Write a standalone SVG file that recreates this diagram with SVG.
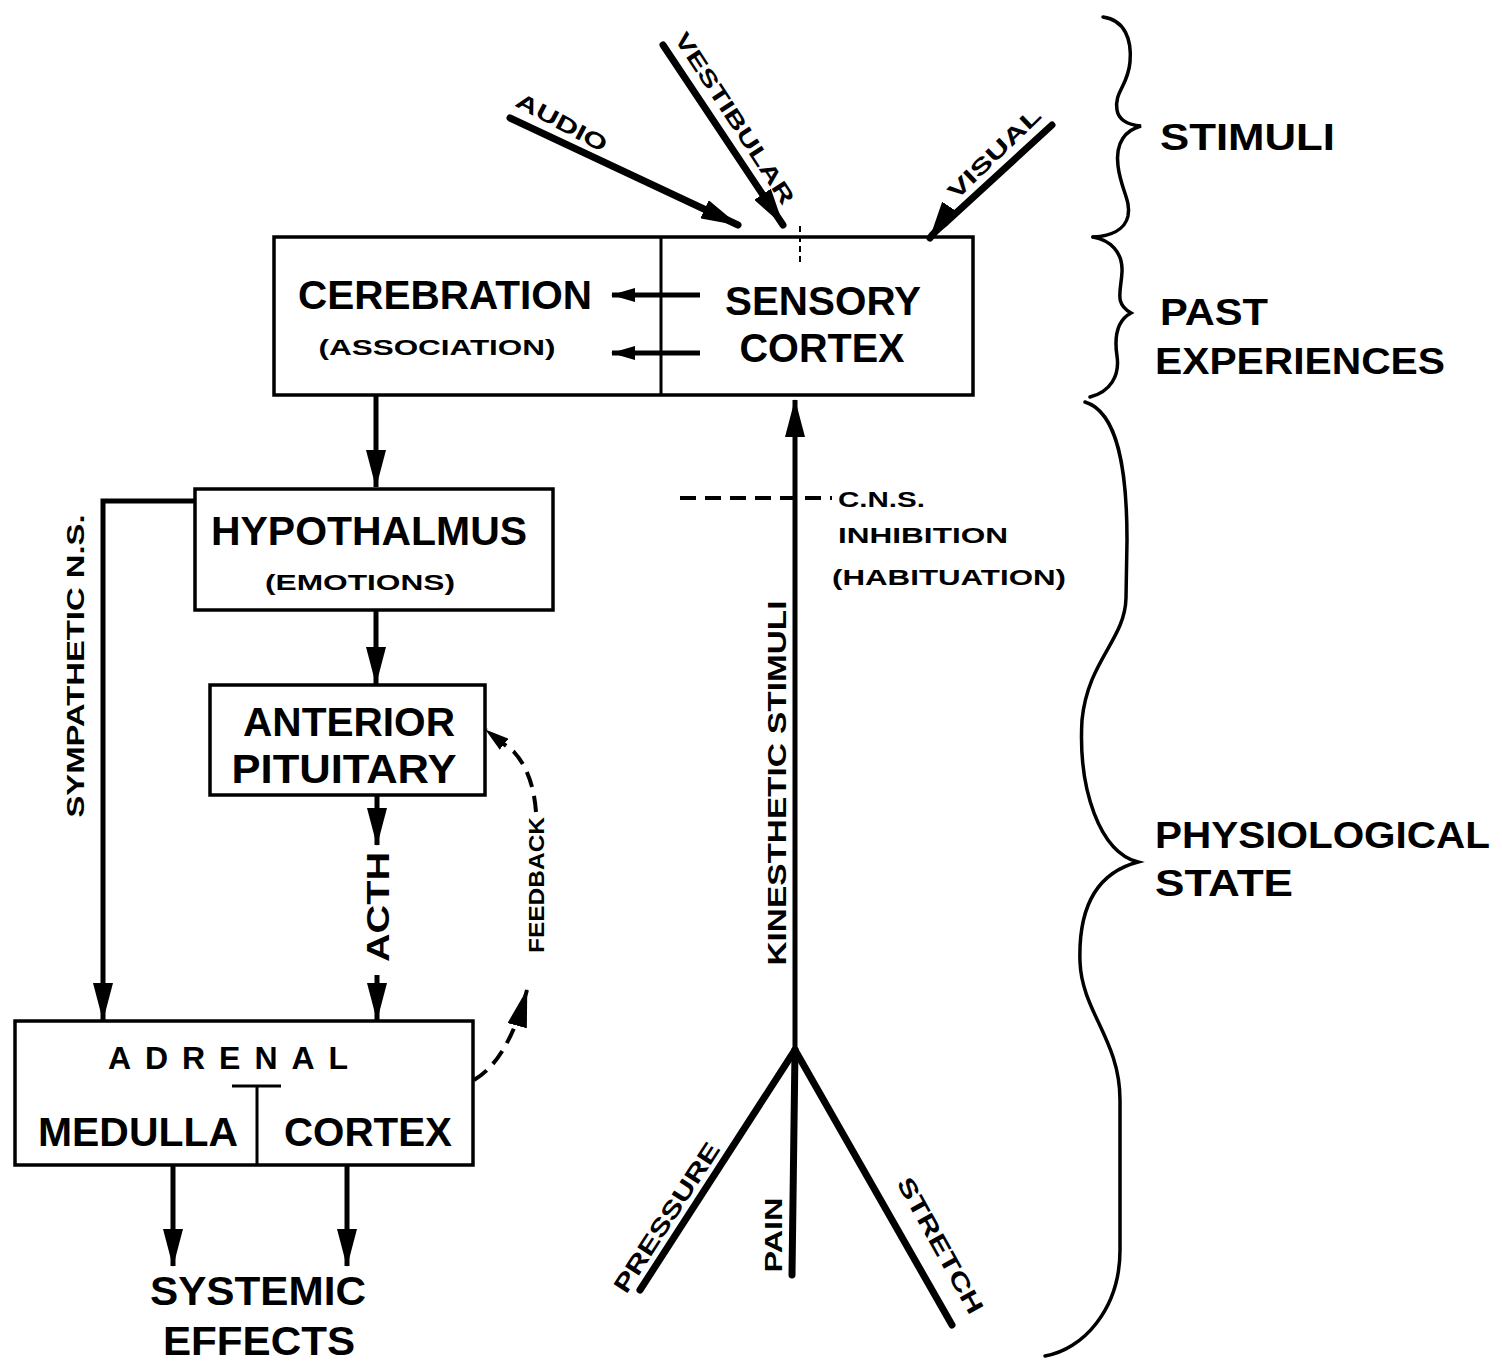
<svg xmlns="http://www.w3.org/2000/svg" width="1502" height="1362" viewBox="0 0 1502 1362">
<style>
text{font-family:"Liberation Sans","DejaVu Sans",sans-serif;font-weight:bold;fill:#000}
.b{font-size:40px}
.m{font-size:36px}
.s{font-size:22px}
.box{fill:#fff;stroke:#000;stroke-width:3.5}
.ln{fill:none;stroke:#000;stroke-width:5}
.thick{fill:none;stroke:#000;stroke-width:7;stroke-linecap:round}
.br{fill:none;stroke:#000;stroke-width:3.5;stroke-linecap:round}
.dash{fill:none;stroke:#000;stroke-width:4;stroke-dasharray:16 9}
</style>
<defs>
<marker id="ah" markerUnits="userSpaceOnUse" viewBox="0 0 38 20" refX="37" refY="10" markerWidth="38" markerHeight="20" orient="auto"><path d="M0,0 L38,10 L0,20 Z" fill="#000"/></marker>
<marker id="ahs" markerUnits="userSpaceOnUse" viewBox="0 0 24 14" refX="23" refY="7" markerWidth="24" markerHeight="14" orient="auto"><path d="M0,0 L24,7 L0,14 Z" fill="#000"/></marker>
</defs>
<rect width="1502" height="1362" fill="#fff"/>

<g id="node-cerebration">
<rect class="box" x="274" y="237" width="699" height="158"/>
<line x1="661" y1="237" x2="661" y2="395" stroke="#000" stroke-width="3"/>
<text class="b" x="445" y="309" text-anchor="middle" textLength="294" lengthAdjust="spacingAndGlyphs">CEREBRATION</text>
<text class="s" x="437" y="355" text-anchor="middle" textLength="237" lengthAdjust="spacingAndGlyphs">(ASSOCIATION)</text>
</g>
<g id="node-sensory-cortex">
<text class="b" x="823" y="315" text-anchor="middle" textLength="196" lengthAdjust="spacingAndGlyphs">SENSORY</text>
<text class="b" x="822" y="362" text-anchor="middle" textLength="165" lengthAdjust="spacingAndGlyphs">CORTEX</text>
</g>

<g id="node-hypothalmus">
<rect class="box" x="195" y="489" width="358" height="121"/>
<text class="b" x="369" y="545" text-anchor="middle" textLength="316" lengthAdjust="spacingAndGlyphs">HYPOTHALMUS</text>
<text class="s" x="360" y="590" text-anchor="middle" textLength="190" lengthAdjust="spacingAndGlyphs">(EMOTIONS)</text>
</g>

<g id="node-anterior-pituitary">
<rect class="box" x="210" y="685" width="275" height="110"/>
<text class="b" x="349" y="736" text-anchor="middle" textLength="212" lengthAdjust="spacingAndGlyphs">ANTERIOR</text>
<text class="b" x="344" y="783" text-anchor="middle" textLength="225" lengthAdjust="spacingAndGlyphs">PITUITARY</text>
</g>

<g id="node-adrenal">
<rect class="box" x="15" y="1021" width="458" height="144"/>
<text x="228" y="1069" text-anchor="middle" font-size="32" textLength="240" lengthAdjust="spacing">ADRENAL</text>
<path d="M232,1086 L281,1086 M257,1086 L257,1165" stroke="#000" stroke-width="3" fill="none"/>
<text class="b" x="138" y="1146" text-anchor="middle" textLength="200" lengthAdjust="spacingAndGlyphs">MEDULLA</text>
<text class="b" x="368" y="1146" text-anchor="middle" textLength="168" lengthAdjust="spacingAndGlyphs">CORTEX</text>
</g>

<g id="node-systemic-effects">
<text class="b" x="258" y="1305" text-anchor="middle" textLength="216" lengthAdjust="spacingAndGlyphs">SYSTEMIC</text>
<text class="b" x="259" y="1355" text-anchor="middle" textLength="192" lengthAdjust="spacingAndGlyphs">EFFECTS</text>
</g>

<g id="connectors">
<line class="thick" x1="510" y1="118" x2="738" y2="225" marker-end="url(#ah)"/>
<line class="thick" x1="663" y1="45" x2="783" y2="225" marker-end="url(#ah)"/>
<path class="thick" d="M1052,125 L944,224 Q934,232 930,238" marker-end="url(#ah)"/>
<line x1="800" y1="226" x2="800" y2="264" stroke="#000" stroke-width="2" stroke-dasharray="6 4"/>
<line class="ln" x1="700" y1="295" x2="612" y2="295" stroke-width="4" marker-end="url(#ahs)"/>
<line class="ln" x1="700" y1="353" x2="612" y2="353" stroke-width="4" marker-end="url(#ahs)"/>
<line class="ln" x1="376" y1="396" x2="376" y2="487" marker-end="url(#ah)"/>
<line class="ln" x1="376" y1="611" x2="376" y2="684" marker-end="url(#ah)"/>
<line class="ln" x1="377" y1="796" x2="377" y2="845" marker-end="url(#ah)"/>
<line class="ln" x1="377" y1="975" x2="377" y2="1020" marker-end="url(#ah)"/>
<path class="ln" d="M195,501 L103,501 L103,1020" marker-end="url(#ah)"/>
<line class="ln" x1="173" y1="1166" x2="173" y2="1266" marker-end="url(#ah)"/>
<line class="ln" x1="347" y1="1166" x2="347" y2="1266" marker-end="url(#ah)"/>
<path class="dash" d="M474,1080 C500,1065 516,1030 527,990" marker-end="url(#ah)"/>
<path class="dash" d="M536,812 C534,785 526,765 514,752 L486,730" marker-end="url(#ahs)"/>
<line class="ln" x1="795" y1="1052" x2="795" y2="400" marker-end="url(#ah)"/>
<line class="dash" x1="680" y1="498" x2="832" y2="498" stroke-dasharray="15 7"/>
<line class="thick" x1="795" y1="1050" x2="640" y2="1290"/>
<line class="thick" x1="795" y1="1050" x2="792" y2="1275" stroke-width="6"/>
<line class="thick" x1="795" y1="1050" x2="952" y2="1325"/>
</g>

<g id="stimuli-labels">
<text class="s" text-anchor="middle" textLength="100" lengthAdjust="spacingAndGlyphs" transform="translate(562,122) rotate(28)" y="8">AUDIO</text>
<text class="s" text-anchor="middle" textLength="200" lengthAdjust="spacingAndGlyphs" transform="translate(735,118) rotate(57)" y="8">VESTIBULAR</text>
<text class="s" text-anchor="middle" textLength="120" lengthAdjust="spacingAndGlyphs" transform="translate(994,153) rotate(-44)" y="8">VISUAL</text>
</g>

<g id="connector-labels">
<text text-anchor="middle" font-size="24" textLength="303" lengthAdjust="spacingAndGlyphs" transform="translate(75,666) rotate(-90)" y="9">SYMPATHETIC N.S.</text>
<text text-anchor="middle" font-size="32" textLength="110" lengthAdjust="spacingAndGlyphs" transform="translate(377,907) rotate(-90)" y="12">ACTH</text>
<text text-anchor="middle" font-size="22" textLength="136" lengthAdjust="spacingAndGlyphs" transform="translate(536,885) rotate(-90)" y="8">FEEDBACK</text>
<text text-anchor="middle" font-size="26" textLength="365" lengthAdjust="spacingAndGlyphs" transform="translate(777,783) rotate(-90)" y="9">KINESTHETIC STIMULI</text>
<text text-anchor="middle" font-size="24" textLength="75" lengthAdjust="spacingAndGlyphs" transform="translate(773,1235) rotate(-90)" y="9">PAIN</text>
<text text-anchor="middle" font-size="24" textLength="174" lengthAdjust="spacingAndGlyphs" transform="translate(666,1217) rotate(-57)" y="9">PRESSURE</text>
<text text-anchor="middle" font-size="24" textLength="152" lengthAdjust="spacingAndGlyphs" transform="translate(941,1245) rotate(61)" y="9">STRETCH</text>
<text class="s" x="838" y="507" textLength="87" lengthAdjust="spacingAndGlyphs">C.N.S.</text>
<text class="s" x="838" y="543" textLength="170" lengthAdjust="spacingAndGlyphs">INHIBITION</text>
<text class="s" x="832" y="585" textLength="234" lengthAdjust="spacingAndGlyphs">(HABITUATION)</text>
</g>

<g id="braces">
<path class="br" d="M1103,17 C1125,20 1132,40 1130,62 C1128,86 1114,92 1117,110 C1119,122 1130,125 1141,126 C1126,130 1115,142 1118,166 C1121,190 1131,200 1128,216 C1125,230 1110,236 1093,237"/>
<path class="br" d="M1093,237 C1110,240 1123,252 1122,272 C1121,292 1114,303 1131,313 C1118,320 1114,336 1117,356 C1120,376 1110,392 1090,397"/>
<path class="br" d="M1085,402 C1118,412 1127,470 1127,540 L1126,598 C1125,640 1088,660 1082,720 C1078,790 1100,852 1138,862 C1100,872 1078,902 1080,962 C1082,1012 1120,1040 1120,1100 L1120,1250 C1120,1310 1082,1350 1045,1356"/>
</g>

<g id="range-labels">
<text class="m" x="1160" y="150" textLength="175" lengthAdjust="spacingAndGlyphs">STIMULI</text>
<text class="m" x="1160" y="325" textLength="108" lengthAdjust="spacingAndGlyphs">PAST</text>
<text class="m" x="1155" y="374" textLength="290" lengthAdjust="spacingAndGlyphs">EXPERIENCES</text>
<text class="m" x="1155" y="848" textLength="335" lengthAdjust="spacingAndGlyphs">PHYSIOLOGICAL</text>
<text class="m" x="1155" y="896" textLength="138" lengthAdjust="spacingAndGlyphs">STATE</text>
</g>
</svg>
